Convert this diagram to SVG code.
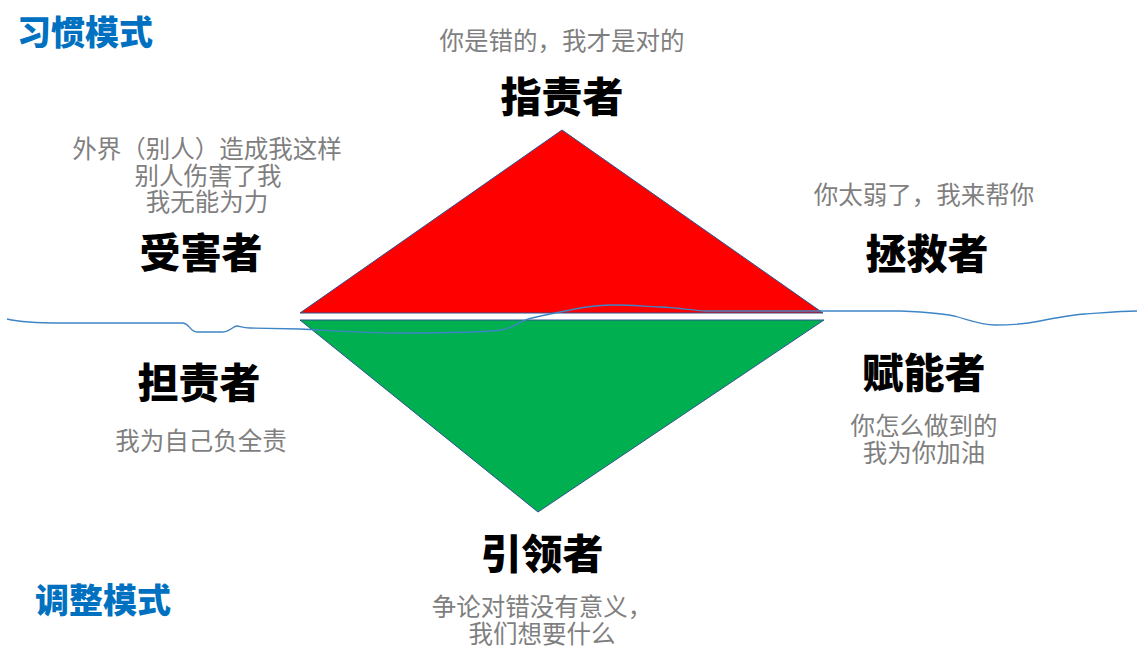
<svg xmlns="http://www.w3.org/2000/svg" width="1137" height="656" viewBox="0 0 1137 656">
<style>
text{font-family:"Noto Sans CJK SC","Noto Sans",sans-serif;text-anchor:middle}
.t{font-size:41px;font-weight:900;fill:#000}
.g{font-size:24.5px;fill:#7F7F7F}
.b{font-size:34px;font-weight:900;fill:#0070C0}
.tri{stroke:#2F528F;stroke-width:1}
.wave{fill:none;stroke:#3D85C6;stroke-width:1.3}
</style>
<rect width="1137" height="656" fill="#fff"/>
<g id="red-triangle"><polygon class="tri" points="562,130 823,313 300,313" fill="#FF0000"/></g>
<g id="green-triangle"><polygon class="tri" points="300,320 824,320 538,512" fill="#00B050"/></g>
<g id="connectors">
<path class="wave" d="M7,319 C20,322 40,323 60,323 L183,323 C190,324 190,332 197,332 L222,332 C230,332 233,326 237,326 C240,326 242,328 250,328 L300,329 C340,331 370,333 398,333 C440,333 480,333 501,330 C515,328 520,320 532,318 C545,315 560,312 575,309 C590,306 600,305 615,305 C630,305 640,306 660,307 C680,308 690,310 705,311 L823,311 L900,311 C925,312 945,313 958,317 C972,321 982,325 995,325 C1010,325 1025,324 1040,321 C1060,317 1070,315 1085,314 C1100,313 1120,311 1137,311"/>
</g>
<g id="label-habit"><text class="b" x="85" y="44.5">习惯模式</text></g>
<g id="label-adjust"><text class="b" x="103" y="612.5">调整模式</text></g>
<g id="node-blamer">
<text class="g" x="562" y="49.5">你是错的，我才是对的</text>
<text class="t" x="562" y="112">指责者</text>
</g>
<g id="node-victim">
<text class="g" x="207" y="157.5">外界（别人）造成我这样</text>
<text class="g" x="208" y="184.5">别人伤害了我</text>
<text class="g" x="207" y="210.5">我无能为力</text>
<text class="t" x="201" y="268">受害者</text>
</g>
<g id="node-rescuer">
<text class="g" x="924" y="203.5">你太弱了，我来帮你</text>
<text class="t" x="927" y="269">拯救者</text>
</g>
<g id="node-responsible">
<text class="t" x="199" y="398">担责者</text>
<text class="g" x="201" y="449.5">我为自己负全责</text>
</g>
<g id="node-empower">
<text class="t" x="924" y="388">赋能者</text>
<text class="g" x="924" y="434.5">你怎么做到的</text>
<text class="g" x="924" y="461.5">我为你加油</text>
</g>
<g id="node-leader">
<text class="t" x="542" y="569">引领者</text>
<text class="g" x="542" y="615.5">争论对错没有意义，</text>
<text class="g" x="542" y="642.5">我们想要什么</text>
</g>
</svg>
